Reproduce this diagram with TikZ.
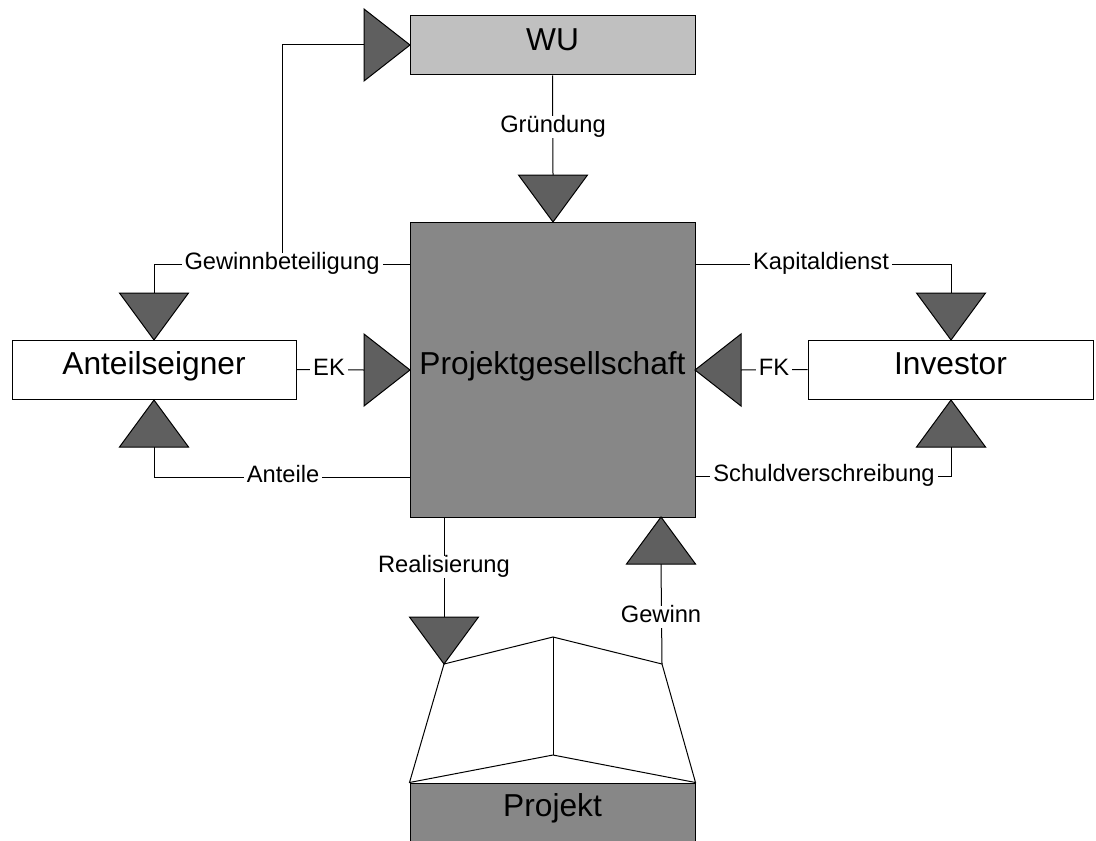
\documentclass[tikz,border=0pt]{standalone}
\usepackage{fontspec}
\setmainfont{Liberation Sans}
\usetikzlibrary{fit}
\definecolor{wufill}{HTML}{C0C0C0}
\definecolor{pgfill}{HTML}{878787}
\definecolor{tipfill}{HTML}{5F5F5F}
% flow tips: first two arguments give the point of the triangle
\newcommand\tipdown[2]{\filldraw[tip] (#1,#2) -- ++(-34.5,-47) -- ++(69,0) -- cycle;}
\newcommand\tipup[2]{\filldraw[tip] (#1,#2) -- ++(-34.5,47) -- ++(69,0) -- cycle;}
\newcommand\tipright[2]{\filldraw[tip] (#1,#2) -- ++(-46,-36) -- ++(0,72) -- cycle;}
\newcommand\tipleft[2]{\filldraw[tip] (#1,#2) -- ++(46,-36) -- ++(0,72) -- cycle;}
\begin{document}
\begin{tikzpicture}[x=0.5pt,y=-0.5pt,
  box/.style={draw=black, line width=0.5pt, inner sep=0pt},
  big/.style={font=\fontsize{15.85}{19}\selectfont, inner sep=0pt,
    text height=0.72em, text depth=0.21em},
  lbl/.style={fill=white, inner xsep=1.5pt, inner ysep=1pt,
    text height=0.72em, text depth=0.21em,
    font=\fontsize{11.85}{14}\selectfont},
  flow/.style={draw=black, line width=0.5pt},
  tip/.style={fill=tipfill, draw=black, line width=0.5pt, line join=miter}]
\useasboundingbox (0,0) rectangle (1096,840);
\clip (0,0) rectangle (1096,840);

% parties
\node[box, fill=wufill, fit={(410,16)(695,75)}] (wu) {};
\node[big] (wutext) at (wu.center) {WU};
\node[box, fill=pgfill, fit={(410,222)(695,517)}] (pg) {};
\node[big] (pgtext) at (pg.center) {Projektgesellschaft};
\node[box, fill=white, fit={(12,340)(296,399)}] (ae) {};
\node[big] (aetext) at (ae.center) {Anteilseigner};
\node[box, fill=white, fit={(808,340)(1093,399)}] (inv) {};
\node[big] (invtext) at (inv.center) {Investor};

% project: open box on top of the base block
\node[box, fill=pgfill, fit={(410,783)(695,870)}] (proj) {};
\node[big] (projtext) at (552.5,811) {Projekt};
\coordinate (ptl) at (444,664);
\coordinate (ptm) at (553,637);
\coordinate (ptr) at (662,664);
\coordinate (pbm) at (553,755);
\draw[flow, line join=miter] (ptl) -- (ptm) -- (ptr) -- (proj.north east) -- (pbm) -- (proj.north west) -- cycle;
\draw[flow] (ptm) -- (pbm);

% bases of the flow tips
\coordinate (bwu) at (364,45);
\coordinate (bgr) at (553,175);
\coordinate (bgb) at (154,293);
\coordinate (ban) at (154,447);
\coordinate (bek) at (364,370);
\coordinate (bfk) at (741,370);
\coordinate (bkd) at (951,293);
\coordinate (bsv) at (951,447);
\coordinate (bre) at (444,617);
\coordinate (bgw) at (661,564);

% label positions
\coordinate (lgr) at (553,127);
\coordinate (lgb) at (282,264);
\coordinate (lan) at (283,477);
\coordinate (lek) at (329,370);
\coordinate (lfk) at (774,370);
\coordinate (lkd) at (821,264);
\coordinate (lsv) at (824,476);
\coordinate (lre) at (444,567);
\coordinate (lgw) at (661,617);

% connectors
\draw[flow] (wu.south) -- (bgr);
\draw[flow] (pg.west |- lgb) -- (bgb |- lgb) -- (bgb);
\draw[flow] (lgb) |- (bwu);
\draw[flow] (pg.west |- lan) -- (ban |- lan) -- (ban);
\draw[flow] (ae.east) -- (bek);
\draw[flow] (inv.west) -- (bfk);
\draw[flow] (pg.east |- lkd) -- (bkd |- lkd) -- (bkd);
\draw[flow] (pg.east |- lsv) -- (bsv |- lsv) -- (bsv);
\draw[flow] (bre |- pg.south) -- (bre);
\draw[flow] (bgw) -- (ptr);

% flow tips
\tipright{410}{45}
\tipdown{553}{222}
\tipdown{154}{340}
\tipup{154}{400}
\tipright{410}{370}
\tipleft{695}{370}
\tipdown{951}{340}
\tipup{951}{400}
\tipdown{444}{664}
\tipup{661}{517}

% flow labels
\node[lbl] (ngr) at (lgr) {Gründung};
\node[lbl] (ngb) at (lgb) {Gewinnbeteiligung};
\node[lbl] (nan) at (lan) {Anteile};
\node[lbl] (nek) at (lek) {EK};
\node[lbl] (nfk) at (lfk) {FK};
\node[lbl] (nkd) at (lkd) {Kapitaldienst};
\node[lbl] (nsv) at (lsv) {Schuldverschreibung};
\node[lbl] (nre) at (lre) {Realisierung};
\node[lbl] (ngw) at (lgw) {Gewinn};
\end{tikzpicture}
\end{document}
